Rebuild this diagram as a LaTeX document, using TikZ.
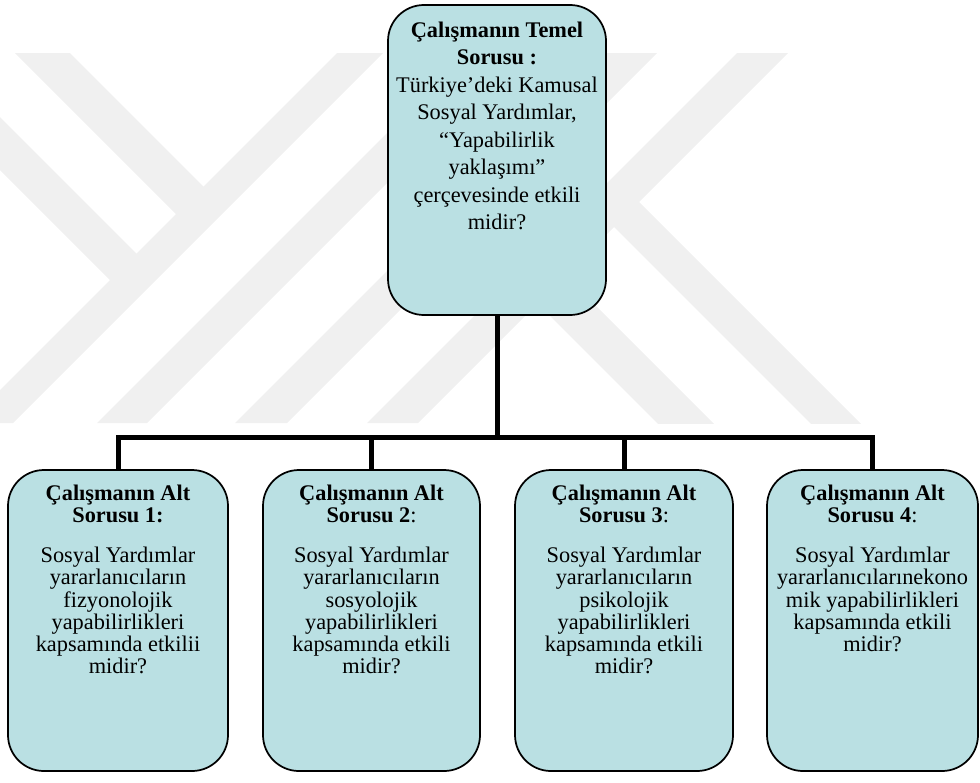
\documentclass[tikz,border=0pt]{standalone}
\usepackage{fontspec}
\setmainfont{Liberation Serif}
\definecolor{qfill}{RGB}{186,224,227}
\definecolor{wmark}{RGB}{240,240,240}
% top-aligned text block of a given width and height
\newcommand{\qtext}[3]{\parbox[c][#2][t]{#1}{\centering #3}}

\begin{document}
\begin{tikzpicture}[x=0.75pt,y=-0.75pt,
  qbox/.style={draw=black,line width=1.3pt,fill=qfill,rounded corners=27pt,inner sep=0pt},
  conn/.style={draw=black,line width=3.75pt,line join=miter}]
\useasboundingbox (0,0) rectangle (980,782);

% faint striped letter marks in the background
\begin{scope}
  \clip (0,53) rectangle (980,423);
  \fill[wmark] (337,53) -- (383,53) -- (13,423) -- (-33,423) -- cycle;
  \fill[wmark] (467,53) -- (517,53) -- (147,423) -- (97,423) -- cycle;
  \fill[wmark] (605,53) -- (657,53) -- (287,423) -- (235,423) -- cycle;
  \fill[wmark] (737,53) -- (788,53) -- (418,423) -- (367,423) -- cycle;
  \fill[wmark] (15,53) -- (70,53) -- (215,198) -- (187.5,225.5) -- cycle;
  \fill[wmark] (-50,67) -- (148,265) -- (121.5,291.5) -- (-50,120) -- cycle;
  \fill[wmark] (601,214) -- (626,189) -- (867,430) -- (817,430) -- cycle;
  \fill[wmark] (459,225) -- (487,197) -- (720,430) -- (664,430) -- cycle;
\end{scope}

% main question
\node[qbox] (top) at (497,160) {\qtext{163.5pt}{232.5pt}{%
  \fontsize{16.75}{20.6}\selectfont\vspace*{12.6pt}%
  \textbf{Çalışmanın Temel}\\
  \textbf{Sorusu :}\\
  Türkiye’deki Kamusal\\
  Sosyal Yardımlar,\\
  “Yapabilirlik\\
  yaklaşımı”\\
  çerçevesinde etkili\\
  midir?}};

% sub-questions
\node[qbox] (b1) at (118,620.5) {\qtext{165pt}{225.75pt}{%
  \fontsize{16.75}{16.7}\selectfont\vspace*{11.1pt}%
  \textbf{Çalışmanın Alt}\\
  \textbf{Sorusu 1:}\\[13.3pt]
  Sosyal Yardımlar\\
  yararlanıcıların\\
  fizyonolojik\\
  yapabilirlikleri\\
  kapsamında etkilii\\
  midir?}};

\node[qbox] (b2) at (371.5,620.5) {\qtext{162.75pt}{225.75pt}{%
  \fontsize{16.75}{16.7}\selectfont\vspace*{11.1pt}%
  \textbf{Çalışmanın Alt}\\
  \textbf{Sorusu 2}:\\[13.3pt]
  Sosyal Yardımlar\\
  yararlanıcıların\\
  sosyolojik\\
  yapabilirlikleri\\
  kapsamında etkili\\
  midir?}};

\node[qbox] (b3) at (624,620.5) {\qtext{163.5pt}{225.75pt}{%
  \fontsize{16.75}{16.7}\selectfont\vspace*{11.1pt}%
  \textbf{Çalışmanın Alt}\\
  \textbf{Sorusu 3}:\\[13.3pt]
  Sosyal Yardımlar\\
  yararlanıcıların\\
  psikolojik\\
  yapabilirlikleri\\
  kapsamında etkili\\
  midir?}};

\node[qbox] (b4) at (872.5,620.5) {\qtext{158.25pt}{225.75pt}{%
  \fontsize{16.75}{16.7}\selectfont\vspace*{11.1pt}%
  \textbf{Çalışmanın Alt}\\
  \textbf{Sorusu 4}:\\[13.3pt]
  Sosyal Yardımlar\\
  yararlanıcılarınekono\\
  mik yapabilirlikleri\\
  kapsamında etkili\\
  midir?}};

% connectors
\coordinate (bar) at (497,437);
\draw[conn] (top.south) -- (top.south |- bar);
\draw[conn] (b1.north) |- (bar) -| (b4.north);
\draw[conn] (b2.north) -- (b2.north |- bar);
\draw[conn] (b3.north) -- (b3.north |- bar);
\end{tikzpicture}
\end{document}
